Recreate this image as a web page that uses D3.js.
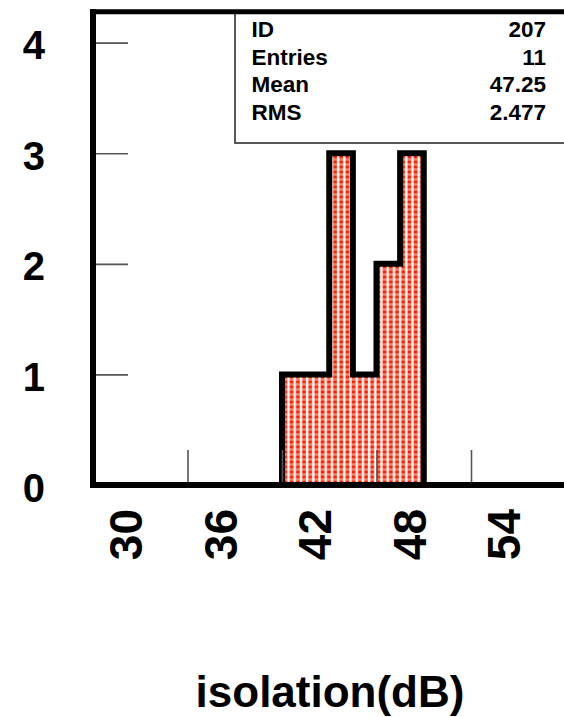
<!DOCTYPE html>
<html>
<head>
<meta charset="utf-8">
<script src="https://cdn.jsdelivr.net/npm/d3@7"></script>
<style>
  html, body { margin: 0; padding: 0; background: #fff; }
  svg { display: block; }
  text { font-family: "Liberation Sans", Arial, Helvetica, sans-serif; font-weight: bold; fill: #000; }
</style>
</head>
<body>
<svg id="chart" width="564" height="717"></svg>
<script>
// ---- data ----
const binLow = [42, 43.5, 45, 46.5, 48, 49.5];
const counts = [1, 1, 3, 1, 2, 3];
const binWidth = 1.5;
const xTicks = [30, 36, 42, 48, 54];
const yTicks = [0, 1, 2, 3, 4];
const statLabels = ["ID", "Entries", "Mean", "RMS"];
const statValues = ["207", "11", "47.25", "2.477"];
const xTitle = "isolation(dB)";

// ---- layout ----
const W = 564, H = 717;
const pL = 93, pR = 565.5, pT = 11.7, pB = 485;
const svg = d3.select("#chart");

const x = d3.scaleLinear().domain([30, 60]).range([pL, pR]);
const y = d3.scaleLinear().domain([0, 4.28]).range([pB, pT]);

// pattern fill
const defs = svg.append("defs");
const pat = defs.append("pattern")
  .attr("id", "dots").attr("patternUnits", "userSpaceOnUse")
  .attr("width", 6.2).attr("height", 5)
  .attr("x", x(42) + 1).attr("y", 0);
pat.append("rect").attr("width", 6.2).attr("height", 5).attr("fill", "#fff");
pat.append("rect").attr("x", 0.5).attr("y", 0.3).attr("width", 3.8).attr("height", 3.4).attr("fill", "#ff2000");
pat.append("rect").attr("x", 0.5).attr("y", 3.7).attr("width", 3.8).attr("height", 1.3).attr("fill", "#ff7a62");

// histogram points
const pts = [[binLow[0], 0]];
binLow.forEach((lo, i) => pts.push([lo, counts[i]]));
const last = binLow[binLow.length - 1] + binWidth;
pts.push([last, counts[counts.length - 1]]);
pts.push([last, 0]);

const line = d3.line().x(d => x(d[0])).y(d => y(d[1])).curve(d3.curveStepAfter);

svg.append("path").attr("d", line(pts) + "Z").attr("fill", "url(#dots)").attr("stroke", "none");
svg.append("path").attr("d", line(pts)).attr("fill", "none")
  .attr("stroke", "#000").attr("stroke-width", 6).attr("stroke-linejoin", "miter");

// x ticks
const xAxis = d3.axisTop(x).tickValues(xTicks).tickSize(35).tickFormat("");
const gx = svg.append("g").attr("transform", `translate(0,${pB})`).call(xAxis);
gx.select(".domain").remove();
gx.selectAll(".tick line").attr("stroke", "#555").attr("stroke-width", 1.6);

// y ticks
const yAxis = d3.axisRight(y).tickValues(yTicks).tickSize(35).tickFormat("");
const gy = svg.append("g").attr("transform", `translate(${pL},0)`).call(yAxis);
gy.select(".domain").remove();
gy.selectAll(".tick line").attr("stroke", "#555").attr("stroke-width", 1.6);

// frame (left, top, bottom)
svg.append("line").attr("x1", pL).attr("x2", pL).attr("y1", pT - 2.5).attr("y2", pB + 3)
  .attr("stroke", "#000").attr("stroke-width", 6);
svg.append("line").attr("x1", pL - 3).attr("x2", W).attr("y1", pT).attr("y2", pT)
  .attr("stroke", "#000").attr("stroke-width", 5);
svg.append("line").attr("x1", pL - 3).attr("x2", W).attr("y1", pB).attr("y2", pB)
  .attr("stroke", "#000").attr("stroke-width", 6);

// y labels
svg.append("g").selectAll("text").data(yTicks).join("text")
  .attr("x", 45).attr("y", d => y(d) + 16.5)
  .attr("text-anchor", "end").attr("font-size", 40)
  .text(d => d);

// x labels (rotated)
svg.append("g").selectAll("text").data(xTicks).join("text")
  .attr("transform", d => `translate(${x(d) + 49},509) rotate(-90)`)
  .attr("text-anchor", "end").attr("font-size", 46)
  .text(d => d);

// x title
svg.append("text").attr("x", 330).attr("y", 707).attr("text-anchor", "middle")
  .attr("font-size", 44).text(xTitle);

// stats box
const boxL = 235, boxB = 143;
svg.append("path")
  .attr("d", `M${boxL},${pT + 2}V${boxB}H${W}`)
  .attr("fill", "none").attr("stroke", "#222").attr("stroke-width", 1.5);
const rowBase = [37, 64.5, 92, 119.5];
const sg = svg.append("g");
sg.selectAll("text.lab").data(statLabels).join("text").attr("class", "lab")
  .attr("x", 251.5).attr("y", (d, i) => rowBase[i]).attr("font-size", 22.5).text(d => d);
sg.selectAll("text.val").data(statValues).join("text").attr("class", "val")
  .attr("x", 546).attr("y", (d, i) => rowBase[i]).attr("text-anchor", "end").attr("font-size", 22.5).text(d => d);
</script>
</body>
</html>
